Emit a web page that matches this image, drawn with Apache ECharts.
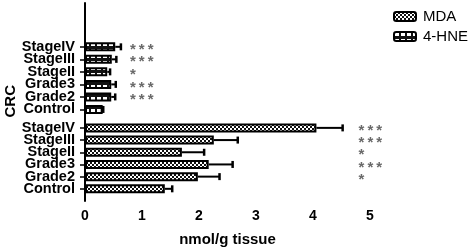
<!DOCTYPE html>
<html>
<head>
<meta charset="utf-8">
<script src="https://cdn.jsdelivr.net/npm/echarts@6/dist/echarts.min.js"></script>
<style>
  html, body { margin: 0; padding: 0; background: #fff; }
  #chart { width: 470px; height: 249px; }
</style>
</head>
<body>
<div id="chart"></div>
<script>
// groups, bottom to top
const groups = ['Control', 'Grade2', 'Grade3', 'StageII', 'StageIII', 'StageIV']
// 4-HNE (upper block)
const hneMean = [0.31, 0.46, 0.46, 0.39, 0.47, 0.53]
const hneErr = [0.32, 0.53, 0.54, 0.44, 0.55, 0.63]
const hneStars = ['', '***', '***', '*', '***', '***']
// MDA (lower block)
const mdaMean = [1.40, 1.98, 2.17, 1.70, 2.26, 4.06]
const mdaErr = [1.53, 2.36, 2.59, 2.09, 2.68, 4.52]
const mdaStars = ['', '*', '***', '*', '***', '***']
const xTicks = [0, 1, 2, 3, 4, 5]

const FONT = 'Liberation Sans, Arial, sans-serif'

// upper block has empty slots on top, lower block has an empty slot each end
const upperCats = groups.concat([' ', '  ', '   '])
const lowerCats = [' '].concat(groups, ['  '])

function makePattern(draw, w, h) {
  const c = document.createElement('canvas')
  c.width = w; c.height = h
  draw(c.getContext('2d'))
  return { image: c, repeat: 'repeat' }
}
const mdaFill = makePattern(ctx => {
  ctx.fillStyle = '#fff'; ctx.fillRect(0, 0, 4, 4)
  ctx.fillStyle = '#111'; ctx.fillRect(0, 0, 2, 2); ctx.fillRect(2, 2, 2, 2)
}, 4, 4)
const hneFill = makePattern(ctx => {
  ctx.fillStyle = '#111'; ctx.fillRect(0, 0, 6, 6)
  ctx.fillStyle = '#fff'; ctx.fillRect(1, 1, 4, 3)
}, 6, 6)

function errRender(params, api) {
  const y = api.value(2)
  const a = api.coord([api.value(0), y])
  const b = api.coord([api.value(1), y])
  return {
    type: 'group',
    children: [
      { type: 'line', shape: { x1: a[0], y1: a[1], x2: b[0], y2: b[1] }, style: { stroke: '#000', lineWidth: 2 } },
      { type: 'line', shape: { x1: b[0], y1: b[1] - 3.5, x2: b[0], y2: b[1] + 3.5 }, style: { stroke: '#000', lineWidth: 2.5 } }
    ]
  }
}

const chart = echarts.init(document.getElementById('chart'))

function yAxisFor(grid, cats, gap) {
  return {
    type: 'category', gridIndex: grid, data: cats, boundaryGap: gap,
    axisLine: { lineStyle: { color: '#000', width: 2 } },
    axisTick: {
      show: true, length: 5, alignWithLabel: true,
      interval: (i) => groups.indexOf(cats[i]) >= 0,
      lineStyle: { color: '#000', width: 1.5 }
    },
    axisLabel: { color: '#000', fontFamily: FONT, fontWeight: 'bold', fontSize: 14.5, margin: 10, interval: 0 },
    splitLine: { show: false }
  }
}
const xBase = {
  type: 'value', min: 0, max: 5, interval: 1,
  splitLine: { show: false }
}

const starLabel = {
  show: true, position: 'right', distance: 0, offset: [0, 3],
  formatter: p => p.value[2].split('').join('\u2009'),
  color: '#444', fontFamily: FONT, fontWeight: 'bold', fontSize: 15
}

chart.setOption({
  animation: false,
  backgroundColor: '#fff',
  legend: {
    orient: 'vertical',
    left: 388, top: 4,
    itemWidth: 22, itemHeight: 9, itemGap: 5,
    data: ['MDA', '4-HNE'],
    textStyle: { color: '#000', fontFamily: FONT, fontSize: 15, padding: [0, 0, 0, 2] }
  },
  graphic: [{
    type: 'text', left: 3, top: 85, rotation: Math.PI / 2,
    style: { text: 'CRC', fontFamily: FONT, fontWeight: 'bold', fontSize: 15, fill: '#000' }
  }],
  grid: [
    { left: 85, width: 285, top: 3, height: 112.7 },
    { left: 85, width: 285, top: 115.7, height: 85.3 }
  ],
  xAxis: [
    Object.assign({}, xBase, { gridIndex: 0, show: false }),
    Object.assign({}, xBase, {
      gridIndex: 1,
      data: xTicks,
      axisLine: { lineStyle: { color: '#000', width: 2 } },
      axisTick: { length: 5, lineStyle: { color: '#000', width: 1.5 } },
      axisLabel: { color: '#000', fontFamily: FONT, fontWeight: 'bold', fontSize: 14, margin: 8 },
      name: 'nmol/g tissue', nameLocation: 'middle', nameGap: 31,
      nameTextStyle: { color: '#000', fontFamily: FONT, fontWeight: 'bold', fontSize: 15 }
    })
  ],
  yAxis: [
    yAxisFor(0, upperCats, true),
    yAxisFor(1, lowerCats, false)
  ],
  series: [
    {
      name: 'MDA', type: 'bar', xAxisIndex: 1, yAxisIndex: 1, barWidth: 9,
      itemStyle: { color: mdaFill, borderColor: '#000', borderWidth: 2 },
      data: [null].concat(mdaMean, [null])
    },
    {
      name: '4-HNE', type: 'bar', xAxisIndex: 0, yAxisIndex: 0, barWidth: 9,
      itemStyle: { color: hneFill, borderColor: '#000', borderWidth: 2 },
      data: hneMean.concat([null, null, null])
    },
    {
      type: 'custom', xAxisIndex: 1, yAxisIndex: 1, renderItem: errRender, z: 3,
      data: mdaMean.map((m, i) => [m, mdaErr[i], i + 1])
    },
    {
      type: 'custom', xAxisIndex: 0, yAxisIndex: 0, renderItem: errRender, z: 3,
      data: hneMean.map((m, i) => [m, hneErr[i], i])
    },
    {
      type: 'scatter', xAxisIndex: 1, yAxisIndex: 1, symbolSize: 0,
      data: mdaStars.map((s, i) => [4.8, i + 1, s]).filter(d => d[2]),
      label: starLabel
    },
    {
      type: 'scatter', xAxisIndex: 0, yAxisIndex: 0, symbolSize: 0,
      data: hneStars.map((s, i) => [0.79, i, s]).filter(d => d[2]),
      label: starLabel
    }
  ]
})
</script>
</body>
</html>
